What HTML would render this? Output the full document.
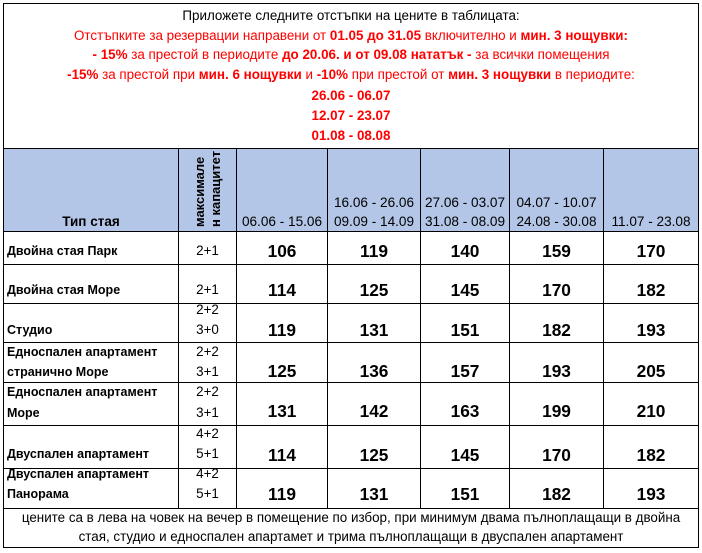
<!DOCTYPE html>
<html><head><meta charset="utf-8">
<style>
*{margin:0;padding:0;box-sizing:border-box}
body{width:702px;height:553px;background:#fff;position:relative;overflow:hidden;font-family:"Liberation Sans","DejaVu Sans",sans-serif;font-size:13.4px;color:#000}
.h{position:absolute;height:1px;left:3px;width:696px;background:#000}
.v{position:absolute;width:1px;background:#000}
.t{position:absolute;height:20px;line-height:20px;white-space:nowrap}
.c{text-align:center;font-size:13.6px}
.r{color:#f00}
.n{font-weight:bold;font-size:17.3px;text-align:center}
.b{font-weight:bold}
.nm{font-weight:bold;font-size:12.5px;left:7px}
.cap{left:179px;width:57px;text-align:center}
.c3{left:237px;width:90px}
.c4{left:328px;width:92px}
.c5{left:421px;width:88px}
.c6{left:510px;width:93px}
.c7{left:604px;width:94px}
.tt{left:4px;width:694px;text-align:center}
</style></head><body>
<div style="position:absolute;left:4px;top:149px;width:694px;height:82px;background:#b4c6e7"></div>

<div class="h" style="top:3px"></div>
<div class="h" style="top:148px"></div>
<div class="h" style="top:231px"></div>
<div class="h" style="top:264px"></div>
<div class="h" style="top:303px"></div>
<div class="h" style="top:342px"></div>
<div class="h" style="top:382px"></div>
<div class="h" style="top:425px"></div>
<div class="h" style="top:468px"></div>
<div class="h" style="top:508px"></div>
<div class="h" style="top:547px"></div>
<div class="v" style="left:3px;top:3px;height:545px"></div>
<div class="v" style="left:698px;top:3px;height:545px"></div>
<div class="v" style="left:178px;top:148px;height:360px"></div>
<div class="v" style="left:236px;top:148px;height:360px"></div>
<div class="v" style="left:327px;top:148px;height:360px"></div>
<div class="v" style="left:420px;top:148px;height:360px"></div>
<div class="v" style="left:509px;top:148px;height:360px"></div>
<div class="v" style="left:603px;top:148px;height:360px"></div>

<!-- title block -->
<div class="t tt" style="top:6px">Приложете следните отстъпки на цените в таблицата:</div>
<div class="t tt r" style="top:26px">Отстъпките за резервации направени от <b>01.05 до 31.05</b> включително и <b>мин. 3 нощувки:</b></div>
<div class="t tt r" style="top:45px"><b>- 15%</b> за престой в периодите <b>до 20.06. и от 09.08 нататък -</b> за всички помещения</div>
<div class="t tt r" style="top:65px"><b>-15%</b> за престой при <b>мин. 6 нощувки</b> и <b>-10%</b> при престой от <b>мин. 3 нощувки</b> в периодите:</div>
<div class="t tt r b" style="top:86px">26.06 - 06.07</div>
<div class="t tt r b" style="top:106px">12.07 - 23.07</div>
<div class="t tt r b" style="top:126px">01.08 - 08.08</div>

<!-- header -->
<div class="t b" style="left:4px;width:174px;text-align:center;top:212px;font-size:13.5px">Тип стая</div>
<div style="position:absolute;left:192px;top:227px;width:80px;line-height:16px;font-weight:bold;font-size:13px;white-space:nowrap;transform:rotate(-90deg);transform-origin:left top">максимале<br>н капацитет</div>
<div class="t c c3" style="top:212px">06.06 - 15.06</div>
<div class="t c c4" style="top:193px">16.06 - 26.06</div>
<div class="t c c4" style="top:212px">09.09 - 14.09</div>
<div class="t c c5" style="top:193px">27.06 - 03.07</div>
<div class="t c c5" style="top:212px">31.08 - 08.09</div>
<div class="t c c6" style="top:193px">04.07 - 10.07</div>
<div class="t c c6" style="top:212px">24.08 - 30.08</div>
<div class="t c c7" style="top:212px">11.07 - 23.08</div>

<!-- row 1 -->
<div class="t nm" style="top:241px">Двойна стая Парк</div>
<div class="t cap" style="top:241px">2+1</div>
<div class="t n c3" style="top:241px">106</div>
<div class="t n c4" style="top:241px">119</div>
<div class="t n c5" style="top:241px">140</div>
<div class="t n c6" style="top:241px">159</div>
<div class="t n c7" style="top:241px">170</div>

<!-- row 2 -->
<div class="t nm" style="top:280px">Двойна стая Море</div>
<div class="t cap" style="top:280px">2+1</div>
<div class="t n c3" style="top:280px">114</div>
<div class="t n c4" style="top:280px">125</div>
<div class="t n c5" style="top:280px">145</div>
<div class="t n c6" style="top:280px">170</div>
<div class="t n c7" style="top:280px">182</div>

<!-- row 3 -->
<div class="t cap" style="top:300px">2+2</div>
<div class="t nm" style="top:320px">Студио</div>
<div class="t cap" style="top:320px">3+0</div>
<div class="t n c3" style="top:320px">119</div>
<div class="t n c4" style="top:320px">131</div>
<div class="t n c5" style="top:320px">151</div>
<div class="t n c6" style="top:320px">182</div>
<div class="t n c7" style="top:320px">193</div>

<!-- row 4 -->
<div class="t nm" style="top:342px">Едноспален апартамент</div>
<div class="t cap" style="top:342px">2+2</div>
<div class="t nm" style="top:362px">странично Море</div>
<div class="t cap" style="top:362px">3+1</div>
<div class="t n c3" style="top:361px">125</div>
<div class="t n c4" style="top:361px">136</div>
<div class="t n c5" style="top:361px">157</div>
<div class="t n c6" style="top:361px">193</div>
<div class="t n c7" style="top:361px">205</div>

<!-- row 5 -->
<div class="t nm" style="top:382px">Едноспален апартамент</div>
<div class="t cap" style="top:382px">2+2</div>
<div class="t nm" style="top:403px">Море</div>
<div class="t cap" style="top:403px">3+1</div>
<div class="t n c3" style="top:401px">131</div>
<div class="t n c4" style="top:401px">142</div>
<div class="t n c5" style="top:401px">163</div>
<div class="t n c6" style="top:401px">199</div>
<div class="t n c7" style="top:401px">210</div>

<!-- row 6 -->
<div class="t cap" style="top:424px">4+2</div>
<div class="t nm" style="top:444px">Двуспален апартамент</div>
<div class="t cap" style="top:444px">5+1</div>
<div class="t n c3" style="top:445px">114</div>
<div class="t n c4" style="top:445px">125</div>
<div class="t n c5" style="top:445px">145</div>
<div class="t n c6" style="top:445px">170</div>
<div class="t n c7" style="top:445px">182</div>

<!-- row 7 -->
<div class="t nm" style="top:464px">Двуспален апартамент</div>
<div class="t cap" style="top:464px">4+2</div>
<div class="t nm" style="top:484px">Панорама</div>
<div class="t cap" style="top:484px">5+1</div>
<div class="t n c3" style="top:484px">119</div>
<div class="t n c4" style="top:484px">131</div>
<div class="t n c5" style="top:484px">151</div>
<div class="t n c6" style="top:484px">182</div>
<div class="t n c7" style="top:484px">193</div>

<!-- footer -->
<div class="t tt" style="top:508px">цените са в лева на човек на вечер в помещение по избор, при минимум двама пълноплащащи в двойна</div>
<div class="t tt" style="top:527px">стая, студио и едноспален апартамет и трима пълноплащащи в двуспален апартамент</div>
</body></html>
